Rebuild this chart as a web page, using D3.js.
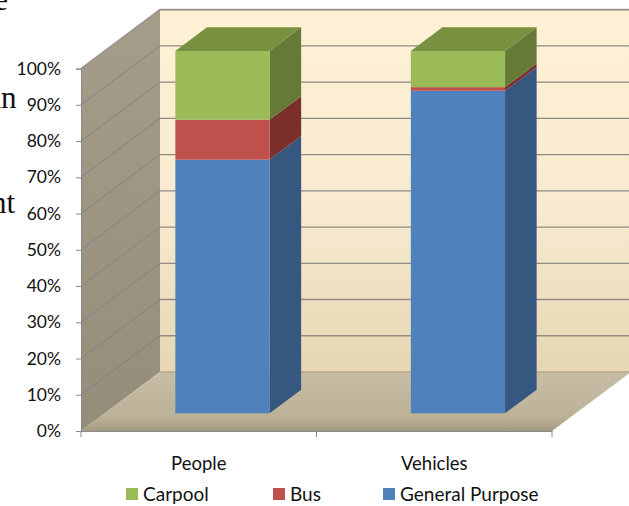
<!DOCTYPE html>
<html>
<head>
<meta charset="utf-8">
<script src="https://cdn.jsdelivr.net/npm/d3@7"></script>
<style>
  html, body { margin: 0; padding: 0; background: #ffffff; }
  svg { display: block; }
  text.sans { font-family: Lato, "Open Sans", sans-serif; }
  text.serif { font-family: "Liberation Serif", "DejaVu Serif", serif; }
</style>
</head>
<body>
<svg id="chart" width="629" height="506"></svg>
<script>
// Mode share: people carried vs. vehicles, by lane type (percent of total)
const categories = ["People", "Vehicles"];
const seriesNames = ["General Purpose", "Bus", "Carpool"];   // stacked bottom to top
const generalPurpose = [70, 89];
const bus = [11, 1];
const carpool = [19, 10];
const yTicks = [0, 10, 20, 30, 40, 50, 60, 70, 80, 90, 100];
const legendOrder = ["Carpool", "Bus", "General Purpose"];

const seriesValues = { "General Purpose": generalPurpose, "Bus": bus, "Carpool": carpool };
const palette = {
  "General Purpose": { front: "#4f81bd", side: "#36577f", top: "#3f6898" },
  "Bus":             { front: "#c0504d", side: "#7a2f2c", top: "#963c3a" },
  "Carpool":         { front: "#9bbb59", side: "#667a37", top: "#77913e" }
};

const svg = d3.select("#chart");
const defs = svg.append("defs");

// Front plane of the 3-D box and the depth offset of its back plane
const left = 81, right = 552;
const depth = { dx: 79, dy: -59 };
const y = d3.scaleLinear().domain([0, 100]).range([431, 68.6]);
const x = d3.scaleBand().domain(categories).range([left, right]).paddingInner(0).paddingOuter(0);

const proj = (px, py, d) => [px + depth.dx * d, py + depth.dy * d];
const poly = pts => pts.map(p => p.join(",")).join(" ");

// Gradients for the walls and floor
function vGrad(id, y1, y2, stops) {
  const g = defs.append("linearGradient").attr("id", id)
    .attr("gradientUnits", "userSpaceOnUse")
    .attr("x1", 0).attr("x2", 0).attr("y1", y1).attr("y2", y2);
  stops.forEach(([o, c]) => g.append("stop").attr("offset", o).attr("stop-color", c));
}
vGrad("backWall", y(100) + depth.dy, y(0) + depth.dy,
  [[0, "#fef1d5"], [0.55, "#f7ead0"], [1, "#e6d7b2"]]);
vGrad("sideWall", y(100) + depth.dy, y(0),
  [[0, "#a59d8a"], [1, "#948d79"]]);
vGrad("floor", y(0) + depth.dy, y(0),
  [[0, "#c8bea5"], [0.75, "#bcb298"], [1, "#a59b80"]]);

const walls = svg.append("g");
// back wall
const bTL = proj(left, y(100), 1), bBR = proj(right, y(0), 1);
walls.append("rect")
  .attr("x", bTL[0]).attr("y", bTL[1])
  .attr("width", bBR[0] - bTL[0]).attr("height", bBR[1] - bTL[1])
  .attr("fill", "url(#backWall)");
// left side wall
walls.append("polygon")
  .attr("points", poly([[left, y(0)], [left, y(100)], proj(left, y(100), 1), proj(left, y(0), 1)]))
  .attr("fill", "url(#sideWall)");
// floor
walls.append("polygon")
  .attr("points", poly([[left, y(0)], [right, y(0)], proj(right, y(0), 1), proj(left, y(0), 1)]))
  .attr("fill", "url(#floor)");

// Gridlines on the back wall and the side wall
const grid = svg.append("g");
grid.selectAll("line.back").data(yTicks.filter(t => t > 0)).join("line")
  .attr("class", "back")
  .attr("x1", d => proj(left, y(d), 1)[0]).attr("x2", d => proj(right, y(d), 1)[0])
  .attr("y1", d => proj(left, y(d), 1)[1]).attr("y2", d => proj(right, y(d), 1)[1])
  .attr("stroke", "#8e8b86").attr("stroke-width", 1.3);
grid.selectAll("line.side").data(yTicks.filter(t => t > 0 && t < 100)).join("line")
  .attr("class", "side")
  .attr("x1", left).attr("y1", d => y(d))
  .attr("x2", d => proj(left, y(d), 1)[0]).attr("y2", d => proj(left, y(d), 1)[1])
  .attr("stroke", "#7d7f8c").attr("stroke-width", 1).attr("opacity", 0.8);
// top edges of the box
grid.append("polyline")
  .attr("points", poly([[left, y(100)], proj(left, y(100), 1), proj(right, y(100), 1)]))
  .attr("fill", "none").attr("stroke", "#9a968f").attr("stroke-width", 1.6);
grid.append("line")
  .attr("x1", proj(left, y(0), 1)[0]).attr("x2", proj(right, y(0), 1)[0])
  .attr("y1", proj(left, y(0), 1)[1]).attr("y2", proj(right, y(0), 1)[1])
  .attr("stroke", "#a39a84").attr("stroke-width", 1);

// Stacked 3-D bars
const stackData = categories.map((c, i) => {
  const row = { category: c };
  seriesNames.forEach(s => row[s] = seriesValues[s][i]);
  return row;
});
const stacked = d3.stack().keys(seriesNames)(stackData);

const barFront = 0.3, barBack = 0.7, barFrac = 0.4;
const bars = svg.append("g");
categories.forEach((c, ci) => {
  const cx = x(c) + x.bandwidth() / 2;
  const w = x.bandwidth() * barFrac;
  const xl = cx - w / 2, xr = cx + w / 2;
  const g = bars.append("g");
  stacked.forEach((layer, li) => {
    const [v0, v1] = layer[ci];
    const col = palette[layer.key];
    const fBL = proj(xl, y(v0), barFront), fTR = proj(xr, y(v1), barFront);
    const fBR = proj(xr, y(v0), barFront), fTL = proj(xl, y(v1), barFront);
    const kBR = proj(xr, y(v0), barBack), kTR = proj(xr, y(v1), barBack);
    const kTL = proj(xl, y(v1), barBack);
    g.append("polygon").attr("points", poly([fBR, kBR, kTR, fTR])).attr("fill", col.side);
    g.append("rect")
      .attr("x", fBL[0]).attr("y", fTR[1])
      .attr("width", fTR[0] - fBL[0]).attr("height", fBL[1] - fTR[1])
      .attr("fill", col.front);
    if (li === stacked.length - 1) {
      g.append("polygon").attr("points", poly([fTL, fTR, kTR, kTL])).attr("fill", col.top);
    }
  });
});

const labelSize = 18.5;

// Value axis on the front edge of the side wall
const yAxis = svg.append("g")
  .attr("transform", `translate(${left},0)`)
  .call(d3.axisLeft(y).tickValues(yTicks).tickSize(5).tickPadding(15).tickFormat(d => d + "%"));
yAxis.select(".domain").attr("stroke", "#8a8a8a");
yAxis.selectAll(".tick line").attr("stroke", "#8a8a8a");
yAxis.selectAll(".tick text").attr("class", "sans")
  .style("font-size", "17.5px").attr("fill", "#111");

// Category axis along the front edge of the floor
const xAxis = svg.append("g")
  .attr("transform", `translate(0,${y(0)})`)
  .call(d3.axisBottom(x).tickSize(0).tickPadding(26));
xAxis.select(".domain").attr("stroke", "#8a8a8a");
xAxis.selectAll(".tick text").attr("class", "sans")
  .style("font-size", labelSize + "px").attr("fill", "#111");
const edges = [x(categories[0])].concat(categories.map(c => x(c) + x.bandwidth()));
xAxis.selectAll("line.edge").data(edges).join("line")
  .attr("class", "edge")
  .attr("x1", d => d).attr("x2", d => d).attr("y1", 0).attr("y2", 6)
  .attr("stroke", "#8a8a8a");

// Legend
const legendX = { "Carpool": 126, "Bus": 273, "General Purpose": 383 };
const legend = svg.append("g");
legendOrder.forEach(name => {
  const gx = legendX[name];
  legend.append("rect").attr("x", gx).attr("y", 488).attr("width", 12).attr("height", 12)
    .attr("fill", palette[name].front);
  legend.append("text").attr("class", "sans").attr("x", gx + 17).attr("y", 501)
    .style("font-size", "19px").attr("fill", "#111").text(name);
});

// Slide text running behind the chart's left edge
const aside = svg.append("g").attr("fill", "#111").attr("text-anchor", "end");
[["e", 8, 10], ["an", 16.5, 108], ["nt", 15, 213]].forEach(([t, tx, ty]) => {
  aside.append("text").attr("class", "serif").attr("x", tx).attr("y", ty)
    .style("font-size", "31px").text(t);
});
</script>
</body>
</html>
